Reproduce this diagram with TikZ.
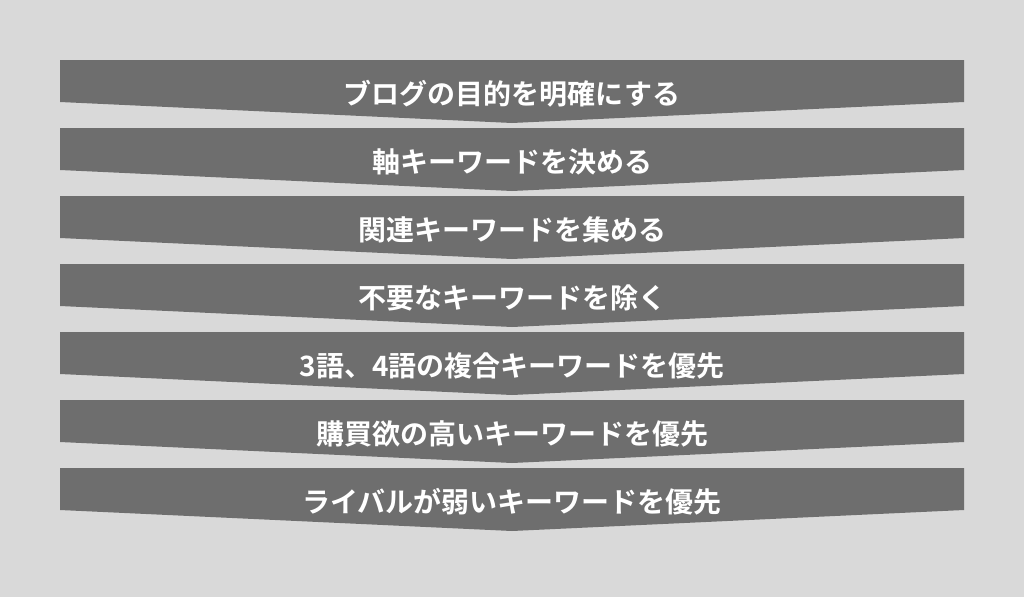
\documentclass[tikz,border=0pt]{standalone}
\usepackage{fontspec}
\newfontfamily\jpfont{Noto Sans CJK JP Bold}
\definecolor{bgcolor}{HTML}{D9D9D9}
\definecolor{barcolor}{HTML}{6E6E6E}
\begin{document}
\begin{tikzpicture}[
    x=1pt, y=-1pt,
    every node/.append style = {font=\jpfont\fontsize{28}{28}\selectfont, text=white}
  ]
  %%+++++++++++++++++++++++++
  % Variables
  % Bars
  \pgfmathsetmacro{\xleft}{60}
  \pgfmathsetmacro{\xright}{964}
  \pgfmathsetmacro{\xmid}{0.5*(\xleft+\xright)}
  \pgfmathsetmacro{\ystart}{60}
  \pgfmathsetmacro{\pitch}{68}
  % Height of the sides and of the tip
  \pgfmathsetmacro{\Hside}{42}
  \pgfmathsetmacro{\Htip}{63}
  %%+++++++++++++++++++++++++
  % Drawing
  % Background
  \fill[bgcolor] (0,0) rectangle (1024,597);
  % Steps
  \foreach \lbl [count=\i from 0] in {ブログの目的を明確にする,
      軸キーワードを決める,
      関連キーワードを集める,
      不要なキーワードを除く,
      3語、4語の複合キーワードを優先,
      購買欲の高いキーワードを優先,
      ライバルが弱いキーワードを優先}{
    \pgfmathsetmacro{\ytop}{\ystart+\pitch*\i}
    \fill[barcolor] (\xleft,\ytop) -- (\xright,\ytop) -- (\xright,\ytop+\Hside)
      -- (\xmid,\ytop+\Htip) -- (\xleft,\ytop+\Hside) -- cycle;
    \node (step\i) at (\xmid,\ytop+34) {\lbl};
  }
\end{tikzpicture}
\end{document}
